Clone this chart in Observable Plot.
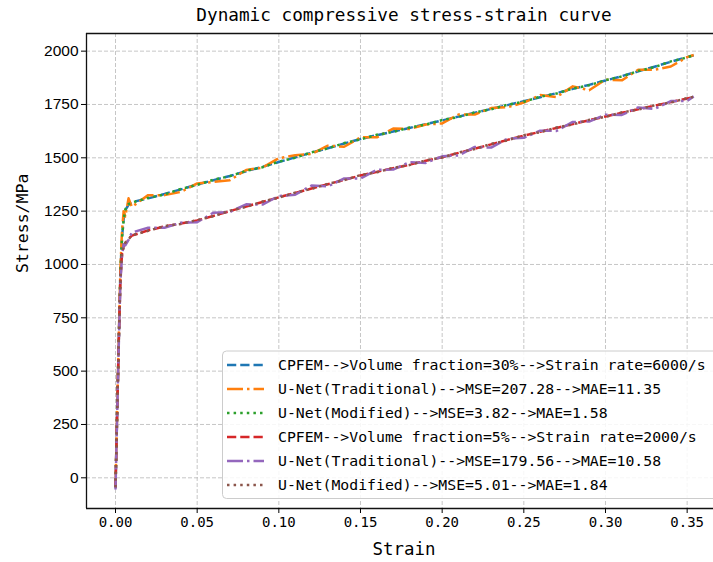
<!DOCTYPE html>
<html>
<head>
<meta charset="utf-8">
<script src="https://cdn.jsdelivr.net/npm/d3@7"></script>
<script src="https://cdn.jsdelivr.net/npm/@observablehq/plot@0.6"></script>
<style>
  body { margin: 0; background: #fff; }
  #chart svg { display: block; }
</style>
</head>
<body>
<div id="chart"></div>
<script>
// ---------- data ----------
const strain = [0, 0.001, 0.002, 0.003, 0.004, 0.005, 0.006, 0.008, 0.01,
  0.02, 0.03, 0.04, 0.05, 0.06, 0.07, 0.08, 0.09, 0.10,
  0.11, 0.12, 0.13, 0.14, 0.15, 0.16, 0.17, 0.18, 0.19, 0.20,
  0.21, 0.22, 0.23, 0.24, 0.25, 0.26, 0.27, 0.28, 0.29, 0.30,
  0.31, 0.32, 0.33, 0.34, 0.35, 0.354];

const cpfem30 = [-45, 300, 640, 960, 1130, 1215, 1255, 1280, 1292,
  1310, 1330, 1352, 1375, 1395, 1415, 1437, 1458, 1480,
  1502, 1524, 1545, 1567, 1588, 1606, 1623, 1640, 1658, 1675,
  1693, 1711, 1729, 1747, 1765, 1784, 1803, 1823, 1842, 1862,
  1883, 1905, 1927, 1950, 1972, 1980];

const unetTrad30 = [-40, 310, 650, 980, 1160, 1250, 1225, 1310, 1270,
  1325, 1325, 1340, 1380, 1387, 1395, 1443, 1454, 1498,
  1512, 1518, 1557, 1552, 1596, 1596, 1637, 1635, 1656, 1661,
  1703, 1703, 1733, 1737, 1759, 1794, 1785, 1835, 1817, 1866,
  1863, 1913, 1913, 1928, 1972, 1982];

const unetMod30 = [-45, 305, 645, 965, 1125, 1210, 1258, 1283, 1290,
  1312, 1328, 1354, 1373, 1397, 1414, 1439, 1456, 1482,
  1500, 1526, 1544, 1569, 1586, 1608, 1621, 1642, 1656, 1677,
  1691, 1713, 1727, 1749, 1763, 1786, 1801, 1825, 1840, 1864,
  1881, 1907, 1925, 1952, 1970, 1982];

const cpfem5 = [-45, 300, 640, 930, 1050, 1085, 1100, 1120, 1135,
  1160, 1178, 1192, 1206, 1228, 1250, 1272, 1293, 1315,
  1335, 1356, 1376, 1397, 1417, 1434, 1451, 1468, 1486, 1503,
  1523, 1543, 1563, 1584, 1604, 1622, 1640, 1658, 1676, 1694,
  1711, 1728, 1744, 1761, 1778, 1784];

const unetTrad5 = [-55, 290, 620, 920, 1040, 1095, 1090, 1115, 1150,
  1172, 1172, 1196, 1198, 1243, 1246, 1282, 1281, 1321,
  1327, 1370, 1366, 1403, 1403, 1444, 1445, 1480, 1476, 1507,
  1511, 1551, 1548, 1590, 1594, 1627, 1626, 1668, 1670, 1702,
  1701, 1736, 1729, 1766, 1766, 1788];

const unetMod5 = [-45, 302, 642, 932, 1052, 1083, 1102, 1118, 1137,
  1158, 1180, 1190, 1208, 1226, 1252, 1270, 1295, 1313,
  1337, 1354, 1378, 1395, 1419, 1432, 1453, 1466, 1488, 1501,
  1525, 1541, 1565, 1582, 1606, 1620, 1642, 1656, 1678, 1692,
  1713, 1726, 1746, 1759, 1780, 1786];

const seriesNames = [
  "CPFEM-->Volume fraction=30%-->Strain rate=6000/s",
  "U-Net(Traditional)-->MSE=207.28-->MAE=11.35",
  "U-Net(Modified)-->MSE=3.82-->MAE=1.58",
  "CPFEM-->Volume fraction=5%-->Strain rate=2000/s",
  "U-Net(Traditional)-->MSE=179.56-->MAE=10.58",
  "U-Net(Modified)-->MSE=5.01-->MAE=1.84"
];
const seriesValues = [cpfem30, unetTrad30, unetMod30, cpfem5, unetTrad5, unetMod5];

const xTicks = [0, 0.05, 0.10, 0.15, 0.20, 0.25, 0.30, 0.35];
const yTicks = [0, 250, 500, 750, 1000, 1250, 1500, 1750, 2000];

const titleText = "Dynamic compressive stress-strain curve";
const xLabel = "Strain";
const yLabel = "Stress/MPa";

// ---------- styles ----------
const colors = ["#1f77b4", "#ff7f0e", "#2ca02c", "#d62728", "#9467bd", "#8c564b"];
const dashes = ["9.25,4", "16,4,2.5,4", "2.5,4.1", "9.25,4", "16,4,2.5,4", "2.5,4.1"];
const mono = "'DejaVu Sans Mono', monospace";
const sans = "'Liberation Sans', Arial, sans-serif";

const data = [];
seriesValues.forEach((vals, i) => vals.forEach((v, j) => data.push({s: i, x: strain[j], y: v})));

const xDomain = [-0.01776, 0.36613];
const yDomain = [-143.9, 2082.7];
const gridStyle = {stroke: "#b8b8b8", strokeOpacity: 1, strokeWidth: 0.8, strokeDasharray: "4,2"};

const plot = Plot.plot({
  width: 713,
  height: 562,
  marginLeft: 86,
  marginRight: 0,
  marginTop: 33,
  marginBottom: 54,
  x: {domain: xDomain},
  y: {domain: yDomain},
  style: {background: "#fff", overflow: "visible"},
  marks: [
    Plot.gridX(xTicks, gridStyle),
    Plot.gridY(yTicks, gridStyle),
    ...seriesNames.map((n, i) => Plot.line(data.filter(d => d.s === i), {
      x: "x", y: "y", stroke: colors[i], strokeWidth: 2.5, strokeDasharray: dashes[i],
      strokeLinecap: "butt", strokeLinejoin: "round"
    })),
    Plot.ruleX([xDomain[0]], {stroke: "#111", strokeWidth: 1.3}),
    Plot.ruleY([yDomain[0], yDomain[1]], {stroke: "#111", strokeWidth: 1.3}),
    Plot.axisX(xTicks, {
      tickFormat: d3.format(".2f"), tickSize: 5, tickPadding: 4,
      fontSize: 14, fontFamily: mono, fill: "#000", label: null
    }),
    Plot.axisY(yTicks, {
      tickFormat: d => String(d), tickSize: 5, tickPadding: 3,
      fontSize: 15.5, fontFamily: sans, fill: "#000", label: null
    }),
    Plot.text([titleText], {frameAnchor: "top", lineAnchor: "middle", dx: 4, dy: -18,
      fontSize: 17.7, fontFamily: mono, fill: "#000"}),
    Plot.text([xLabel], {frameAnchor: "bottom", lineAnchor: "middle", dx: 4, dy: 41,
      fontSize: 17.4, fontFamily: mono, fill: "#000"}),
    Plot.text([yLabel], {frameAnchor: "left", lineAnchor: "middle", dx: -64, dy: 2, rotate: -90,
      fontSize: 16.5, fontFamily: mono, fill: "#000"})
  ]
});

document.getElementById("chart").appendChild(plot);

// ---------- legend ----------
const svg = d3.select(plot);
const lg = svg.append("g").attr("class", "legend");
lg.append("rect")
  .attr("x", 222.5).attr("y", 351).attr("width", 510).attr("height", 147.5)
  .attr("rx", 4).attr("fill", "#fff").attr("fill-opacity", 0.85)
  .attr("stroke", "#cccccc").attr("stroke-width", 1);
seriesNames.forEach((name, i) => {
  const y = 365 + i * 24;
  lg.append("line")
    .attr("x1", 227).attr("x2", 264).attr("y1", y).attr("y2", y)
    .attr("stroke", colors[i]).attr("stroke-width", 2.5)
    .attr("stroke-linecap", "butt")
    .attr("stroke-dasharray", dashes[i]);
  lg.append("text")
    .attr("x", 278).attr("y", y).attr("dy", "0.35em")
    .attr("text-anchor", "start")
    .attr("font-family", mono).attr("font-size", 14.8).attr("fill", "#000")
    .text(name);
});
</script>
</body>
</html>
